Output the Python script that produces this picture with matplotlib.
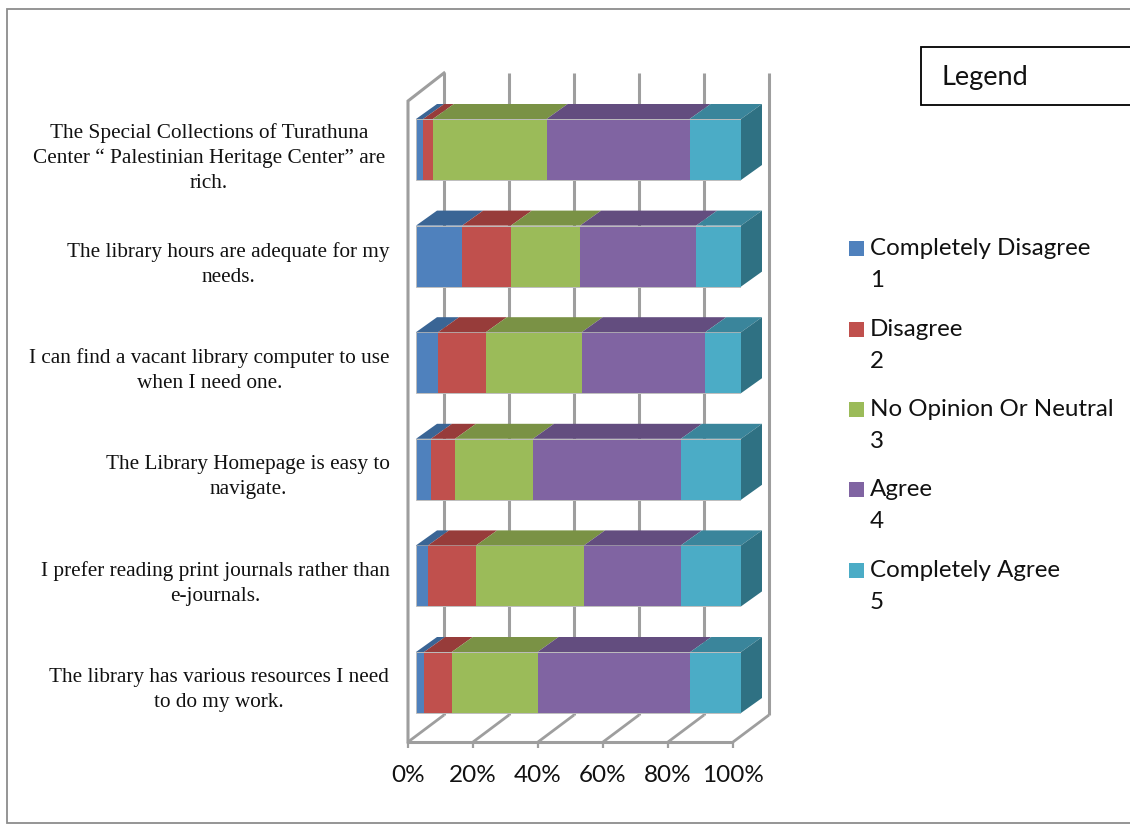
import matplotlib
matplotlib.use("Agg")
import matplotlib.pyplot as plt
from matplotlib.patches import Polygon, Rectangle
from matplotlib.transforms import Affine2D
import numpy as np

questions = [
    "The Special Collections of Turathuna\nCenter \u201c Palestinian Heritage Center\u201d are\nrich.",
    "The library hours are adequate for my\nneeds.",
    "I can find a vacant library computer to use\nwhen I need one.",
    "The Library Homepage is easy to\nnavigate.",
    "I prefer reading print journals rather than\ne-journals.",
    "The library has various resources I need\nto do my work.",
]
completely_disagree = [2.2, 14.2, 6.8, 4.6, 3.7, 2.5]
disagree = [3.0, 15.0, 14.7, 7.4, 14.8, 8.5]
neutral = [35.0, 21.3, 29.5, 24.0, 33.2, 26.4]
agree = [44.0, 35.7, 38.0, 45.5, 29.8, 47.0]
completely_agree = [15.8, 13.8, 11.0, 18.5, 18.5, 15.6]
series_names = ["Completely Disagree\n1", "Disagree\n2", "No Opinion Or Neutral\n3", "Agree\n4", "Completely Agree\n5"]
ticks = [0, 20, 40, 60, 80, 100]

front = ["#4F81BD", "#C0504D", "#9BBB59", "#8064A2", "#4BACC6"]
top = ["#3A6595", "#973C3A", "#7A9245", "#634D7F", "#3A859B"]
side = "#2F7183"
grid = "#9E9E9E"
W, H = 1130, 836
sans = "Lato"
serif = "Liberation Serif"

fig = plt.figure(figsize=(W / 100, H / 100), dpi=100, facecolor="white")

ov = fig.add_axes([0, 0, 1, 1], zorder=3)
ov.set_xlim(0, W); ov.set_ylim(H, 0); ov.axis("off"); ov.patch.set_alpha(0)
ov.plot([1130, 6.5, 6.5, 1130], [9, 9, 823, 823], color="#8C8C8C", lw=1.3, solid_joinstyle="miter")
ov.add_patch(Rectangle((921, 47), 215, 58, fc="white", ec="black", lw=1.3))
ov.text(941, 77, "Legend", family=sans, fontsize=19.5, va="center", ha="left", color="#111111")

x0, x1 = 416, 741
row_top = 119.0; row_step = 106.6; bar_h = 61.0
y_top = row_top + bar_h / 2 - row_step / 2
y_bot = y_top + 6 * row_step
ax = fig.add_axes([x0 / W, 1 - y_bot / H, (x1 - x0) / W, (y_bot - y_top) / H], zorder=2)
ax.set_xlim(0, 100); ax.set_ylim(5.5, -0.5); ax.axis("off"); ax.patch.set_alpha(0)
bar_frac = bar_h / row_step

def shifted(dx, dy):
    return ax.transData + Affine2D().translate(dx, -dy)

fx, bx = -8, 28
y_back_bottom = (715 - y_top) / row_step - 0.5
y_back_top = (73 - y_top) / row_step - 0.5
lk = dict(color=grid, lw=2.2, clip_on=False, zorder=1, solid_capstyle="butt")
for t in ticks:
    ax.plot([t, t], [y_back_top, y_back_bottom], transform=shifted(bx, 0), **lk)
    xa = ax.transData.transform((t, 0))[0]
    xb = xa + bx; xf = xa + fx
    ov.plot([xf, xb], [742, 715], color=grid, lw=2.0, zorder=1, solid_capstyle="butt")
    ov.plot([xf, xf], [742, 748], color=grid, lw=1.6, zorder=1, solid_capstyle="butt")
    ov.text(xf, 776, f"{t}%", family=sans, fontsize=17.5, ha="center", va="center", color="#111111")
ov.plot([408, 732], [742, 742], color=grid, lw=2.2, zorder=1)
ov.plot([444, 408, 408], [73, 101, 742], color=grid, lw=2.2, zorder=1, solid_joinstyle="miter")

series = [completely_disagree, disagree, neutral, agree, completely_agree]
dx, dy = 21, 15
left = np.zeros(6)
for vals, fc, tc in zip(series, front, top):
    vals = np.array(vals)
    ax.barh(range(6), vals, left=left, height=bar_frac, color=fc, zorder=5, edgecolor="none")
    for i, (l, v) in enumerate(zip(left, vals)):
        ytop = i - bar_frac / 2
        p0 = ax.transData.transform((l, ytop)); p1 = ax.transData.transform((l + v, ytop))
        pts = [p0, p1, p1 + [dx, dy], p0 + [dx, dy]]
        fig.add_artist(Polygon(pts, closed=True, fc=tc, ec="none", transform=None, zorder=4))
    left = left + vals
for i in range(6):
    yt = i - bar_frac / 2; yb = i + bar_frac / 2
    pt = ax.transData.transform((left[i], yt)); pb = ax.transData.transform((left[i], yb))
    pts = [pt, pb, pb + [dx, dy], pt + [dx, dy]]
    fig.add_artist(Polygon(pts, closed=True, fc=side, ec="none", transform=None, zorder=4))
    ax.barh(i, left[i], height=bar_frac, fill=False, edgecolor="#BDBDBD", lw=0.7, zorder=6)

# category labels: per-row centre x and first-line baselines in pixels
label_cx = [208.7, 228, 209.7, 248, 215, 219]
first_base = [138, 257, 363, 469, 576, 682]
for i, q in enumerate(questions):
    for k, line in enumerate(q.split("\n")):
        ov.text(label_cx[i], first_base[i] + k * 25, line, family=serif, fontsize=15.35,
                ha="center", va="baseline", color="#111111")

# legend
ly = [248.5, 329, 409.5, 489.5, 570.5]
for yy, name, c in zip(ly, series_names, front):
    ov.add_patch(Rectangle((849, yy - 7.5), 15, 15, fc=c, ec="none"))
    a, b = name.split("\n")
    ov.text(870, yy, a, family=sans, fontsize=17.4, va="center", ha="left", color="#111111")
    ov.text(870, yy + 32, b, family=sans, fontsize=17.4, va="center", ha="left", color="#111111")

fig.savefig("out.png", dpi=100)
